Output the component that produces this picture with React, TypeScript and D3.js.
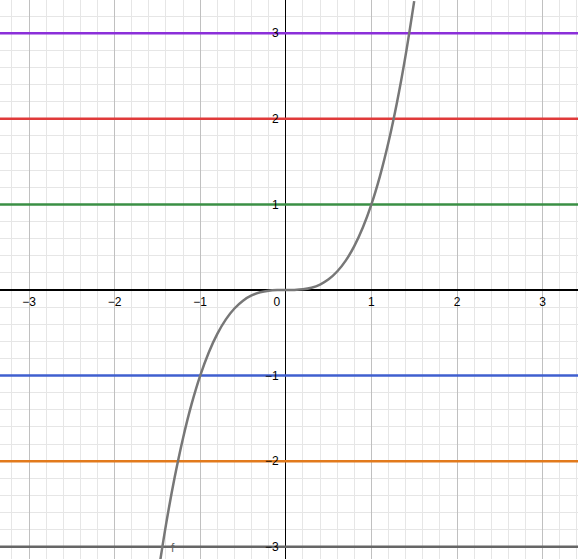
import React from "react";
import * as d3 from "d3";

const W = 578;
const H = 559;

// function f samples (x, f(x))
const curveX = [-1.5, -1.4, -1.3, -1.2, -1.1, -1.0, -0.9, -0.8, -0.7, -0.6, -0.5, -0.4, -0.3, -0.2, -0.1, 0, 0.1, 0.2, 0.3, 0.4, 0.5, 0.6, 0.7, 0.8, 0.9, 1.0, 1.1, 1.2, 1.3, 1.4, 1.5];
const curveY = [-3.375, -2.744, -2.197, -1.728, -1.331, -1.0, -0.729, -0.512, -0.343, -0.216, -0.125, -0.064, -0.027, -0.008, -0.001, 0, 0.001, 0.008, 0.027, 0.064, 0.125, 0.216, 0.343, 0.512, 0.729, 1.0, 1.331, 1.728, 2.197, 2.744, 3.375];

// horizontal lines y = c
const lineValues = [3, 2, 1, -1, -2, -3];
const lineColors = ["#8b2fd9", "#e03a3a", "#3a8f44", "#3f5fcf", "#e27a1c", "#666666"];

const xTicks = [-3, -2, -1, 1, 2, 3];
const yTicks = [3, 2, 1, -1, -2, -3];

const X0 = 285.8;
const Y0 = 290;
const U = 85.6;

export default function App() {
  const x = d3.scaleLinear().domain([-X0 / U, (W - X0) / U]).range([0, W]);
  const y = d3.scaleLinear().domain([Y0 / U, -(H - Y0) / U]).range([0, H]);

  const [xmin, xmax] = x.domain();
  const [ymax, ymin] = y.domain();
  const minorX = d3.range(Math.ceil(xmin * 5), Math.floor(xmax * 5) + 1).map((k) => k / 5);
  const minorY = d3.range(Math.ceil(ymin * 5), Math.floor(ymax * 5) + 1).map((k) => k / 5);
  const majorX = d3.range(Math.ceil(xmin), Math.floor(xmax) + 1);
  const majorY = d3.range(Math.ceil(ymin), Math.floor(ymax) + 1);

  const pts: [number, number][] = curveX.map((v, i) => [v, curveY[i]]);
  const line = d3
    .line<[number, number]>()
    .x((d) => x(d[0]))
    .y((d) => y(d[1]))
    .curve(d3.curveCatmullRom.alpha(0.5));

  const fmt = (v: number) => (v < 0 ? "\u2212" + Math.abs(v) : String(v));
  const font = "'Liberation Sans', Arial, sans-serif";

  return (
    <div style={{ position: "fixed", left: 0, top: 0 }}>
      <svg width={W} height={H} style={{ display: "block", background: "#fff" }}>
        <defs>
          <clipPath id="plot">
            <rect x={0} y={0} width={W} height={H} />
          </clipPath>
        </defs>
        <g shapeRendering="crispEdges">
          {minorX.map((v) => (
            <line key={"mx" + v} x1={x(v)} x2={x(v)} y1={0} y2={H} stroke="#e6e6e6" strokeWidth={1} />
          ))}
          {minorY.map((v) => (
            <line key={"my" + v} x1={0} x2={W} y1={y(v)} y2={y(v)} stroke="#e6e6e6" strokeWidth={1} />
          ))}
          {majorX.map((v) => (
            <line key={"Mx" + v} x1={x(v)} x2={x(v)} y1={0} y2={H} stroke="#c0c0c0" strokeWidth={1} />
          ))}
          {majorY.map((v) => (
            <line key={"My" + v} x1={0} x2={W} y1={y(v)} y2={y(v)} stroke="#c0c0c0" strokeWidth={1} />
          ))}
          <line x1={x(0)} x2={x(0)} y1={0} y2={H} stroke="#000" strokeWidth={1.3} />
          <line x1={0} x2={W} y1={y(0)} y2={y(0)} stroke="#000" strokeWidth={1.3} />
        </g>
        <g clipPath="url(#plot)">
          {lineValues.map((v, i) => (
            <line key={"h" + v} x1={0} x2={W} y1={y(v)} y2={y(v)} stroke={lineColors[i]} strokeWidth={2.5} />
          ))}
          <path d={line(pts) || ""} fill="none" stroke="#777777" strokeWidth={2.5} />
        </g>
        <g fontFamily={font} fontSize={12} fill="#000">
          {xTicks.map((v) => (
            <text key={"xt" + v} x={x(v)} y={y(0) + 16} textAnchor="middle">
              {fmt(v)}
            </text>
          ))}
          <text x={x(0) - 9} y={y(0) + 16} textAnchor="middle">0</text>
          {yTicks.map((v) => (
            <text key={"yt" + v} x={x(0) - 7} y={y(v)} dy="0.35em" textAnchor="end">
              {fmt(v)}
            </text>
          ))}
        </g>
        <text x={171} y={552} fontFamily={font} fontSize={12} fill="#666666">f</text>
      </svg>
    </div>
  );
}
